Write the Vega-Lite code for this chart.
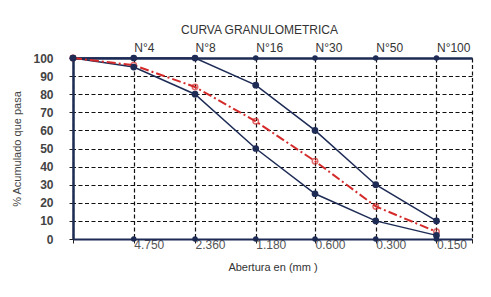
{
  "$schema": "https://vega.github.io/schema/vega-lite/v6.json",
  "width": 399,
  "height": 181,
  "autosize": "none",
  "padding": {"left": 73, "top": 58, "right": 19, "bottom": 58},
  "background": "white",
  "title": {"text": "CURVA GRANULOMETRICA", "fontSize": 12, "font": "Liberation Sans", "fontWeight": "normal", "color": "#333333", "dx": -13, "offset": 4},
  "config": {"view": {"stroke": null}, "font": "Liberation Sans"},
  "datasets": {
    "curvas": [
      {"serie": "sup", "abertura": 9.5, "pasa": 100},
      {"serie": "sup", "abertura": 4.75, "pasa": 100},
      {"serie": "sup", "abertura": 2.36, "pasa": 100},
      {"serie": "sup", "abertura": 1.18, "pasa": 85},
      {"serie": "sup", "abertura": 0.6, "pasa": 60},
      {"serie": "sup", "abertura": 0.3, "pasa": 30},
      {"serie": "sup", "abertura": 0.15, "pasa": 10},
      {"serie": "inf", "abertura": 9.5, "pasa": 100},
      {"serie": "inf", "abertura": 4.75, "pasa": 95},
      {"serie": "inf", "abertura": 2.36, "pasa": 80},
      {"serie": "inf", "abertura": 1.18, "pasa": 50},
      {"serie": "inf", "abertura": 0.6, "pasa": 25},
      {"serie": "inf", "abertura": 0.3, "pasa": 10},
      {"serie": "inf", "abertura": 0.15, "pasa": 2}
    ],
    "muestra": [
      {"abertura": 9.5, "pasa": 100},
      {"abertura": 4.75, "pasa": 96},
      {"abertura": 2.36, "pasa": 84},
      {"abertura": 1.18, "pasa": 65},
      {"abertura": 0.6, "pasa": 43},
      {"abertura": 0.3, "pasa": 18},
      {"abertura": 0.15, "pasa": 4}
    ],
    "marcas": [
      {"abertura": 4.75, "pasa": 100}, {"abertura": 2.36, "pasa": 100}, {"abertura": 1.18, "pasa": 100},
      {"abertura": 0.6, "pasa": 100}, {"abertura": 0.3, "pasa": 100}, {"abertura": 0.15, "pasa": 100},
      {"abertura": 4.75, "pasa": 0}, {"abertura": 2.36, "pasa": 0}, {"abertura": 1.18, "pasa": 0},
      {"abertura": 0.6, "pasa": 0}, {"abertura": 0.3, "pasa": 0}, {"abertura": 0.15, "pasa": 0}
    ]
  },
  "resolve": {"axis": {"x": "independent", "y": "independent"}},
  "layer": [
    {
      "data": {"name": "curvas"},
      "mark": {"type": "line", "strokeWidth": 1.5, "color": "#1d2b55"},
      "encoding": {
        "x": {
          "field": "abertura", "type": "quantitative",
          "scale": {"type": "log", "domain": [0.1, 9.5], "reverse": true, "nice": false},
          "axis": {
            "orient": "bottom",
            "values": [9.5, 4.75, 2.36, 1.18, 0.6, 0.3, 0.15, 0.1],
            "labelExpr": "datum.value == 9.5 || datum.value == 0.1 ? '' : format(datum.value, '.3f')",
            "title": "Abertura en (mm )",
            "titleFont": "Liberation Sans", "titleFontSize": 11, "titleFontWeight": "normal", "titleColor": "#333333", "titlePadding": 11,
            "labelFont": "Liberation Sans", "labelFontSize": 12, "labelColor": "#555555", "labelAlign": "left", "labelPadding": -4, "labelFlush": false, "labelOverlap": false,
            "domainColor": "#1d2b55", "domainWidth": 2,
            "tickColor": "#222222", "tickSize": 4,
            "grid": true, "gridColor": "#111111", "gridDash": [4, 2.5], "gridWidth": 1.2
          }
        },
        "y": {
          "field": "pasa", "type": "quantitative",
          "scale": {"domain": [0, 100], "nice": false},
          "axis": {
            "values": [0, 10, 20, 30, 40, 50, 60, 70, 80, 90, 100],
            "title": "% Acumulado que pasa",
            "titleFont": "Liberation Sans", "titleFontSize": 11, "titleFontWeight": "normal", "titleColor": "#444444", "titlePadding": 10,
            "labelFont": "Liberation Sans", "labelFontSize": 12, "labelFontWeight": "bold", "labelColor": "#444444", "labelPadding": 16,
            "domainColor": "#1d2b55", "domainWidth": 2.5,
            "tickColor": "#222222", "tickSize": 4,
            "grid": true, "gridColor": "#111111", "gridDash": [4, 2.5], "gridWidth": 1.2
          }
        },
        "detail": {"field": "serie"}
      }
    },
    {
      "data": {"name": "marcas"},
      "mark": {"type": "circle", "size": 30, "color": "#1d2b55", "opacity": 1},
      "encoding": {
        "x": {
          "field": "abertura", "type": "quantitative",
          "axis": {
            "orient": "top",
            "values": [4.75, 2.36, 1.18, 0.6, 0.3, 0.15],
            "labelExpr": "datum.value == 4.75 ? 'N°4' : datum.value == 2.36 ? 'N°8' : datum.value == 1.18 ? 'N°16' : datum.value == 0.6 ? 'N°30' : datum.value == 0.3 ? 'N°50' : 'N°100'",
            "title": null,
            "labelFont": "Liberation Sans", "labelFontSize": 12, "labelColor": "#333333", "labelAlign": "left", "labelPadding": 4, "labelFlush": false, "labelOverlap": false,
            "domainColor": "#1d2b55", "domainWidth": 2.5,
            "ticks": false, "grid": false
          }
        },
        "y": {"field": "pasa", "type": "quantitative", "axis": null}
      }
    },
    {
      "data": {"name": "muestra"},
      "mark": {"type": "line", "strokeWidth": 2, "color": "#d42a2a", "strokeDash": [9, 3, 2, 3]},
      "encoding": {
        "x": {"field": "abertura", "type": "quantitative", "axis": null},
        "y": {"field": "pasa", "type": "quantitative", "axis": null}
      }
    },
    {
      "data": {"name": "muestra"},
      "mark": {"type": "point", "size": 30, "color": "#d42a2a", "strokeWidth": 1.5, "filled": false},
      "encoding": {
        "x": {"field": "abertura", "type": "quantitative", "axis": null},
        "y": {"field": "pasa", "type": "quantitative", "axis": null}
      }
    },
    {
      "data": {"name": "curvas"},
      "mark": {"type": "circle", "size": 45, "color": "#1d2b55", "opacity": 1},
      "encoding": {
        "x": {"field": "abertura", "type": "quantitative", "axis": null},
        "y": {"field": "pasa", "type": "quantitative", "axis": null}
      }
    }
  ]
}
